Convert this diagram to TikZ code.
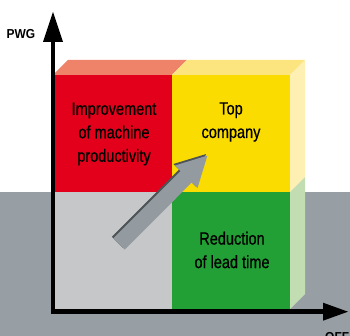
\documentclass[tikz,border=0pt]{standalone}
\usepackage{fontspec}
\usetikzlibrary{arrows.meta}
\newfontfamily\condfont[FakeStretch=0.82,FakeBold=0.6]{Liberation Sans}
\newfontfamily\axisfont[FakeStretch=0.92]{Liberation Sans}
\definecolor{cellred}{HTML}{E2001A}
\definecolor{topred}{HTML}{EE836A}
\definecolor{cellyellow}{HTML}{FADC00}
\definecolor{topyellow}{HTML}{FCE57F}
\definecolor{sideyellow}{HTML}{FDF0B2}
\definecolor{cellgreen}{HTML}{22A035}
\definecolor{sidegreen}{HTML}{C3DDB3}
\definecolor{cellgray}{HTML}{C6C7C9}
\definecolor{backgray}{HTML}{979FA4}
\definecolor{arrowgray}{HTML}{949BA0}
\definecolor{shadowgray}{HTML}{4C5256}
\tikzset{
  celltext/.style={align=center,font=\condfont\fontsize{17.7}{23.5}\selectfont,inner sep=0pt},
  axislabel/.style={font=\axisfont\bfseries\fontsize{13}{13}\selectfont,inner sep=0pt},
  axisline/.style={line width=4.7pt,line join=miter}
}
\begin{document}
\begin{tikzpicture}[x=1pt,y=-1pt]
      \useasboundingbox (0,0) rectangle (350,336);
      \fill[backgray] (0,192) rectangle (350,336);
      % front cells
      \fill[cellred] (53,75) rectangle (172,192);
      \fill[cellyellow] (172,75) rectangle (290,192);
      \fill[cellgray] (53,192) rectangle (172,309);
      \fill[cellgreen] (172,192) rectangle (290,309);
      % top and side faces
      \fill[topred] (53,75) -- (68,60) -- (187,60) -- (172,75) -- cycle;
      \fill[topyellow] (172,75) -- (187,60) -- (305,60) -- (290,75) -- cycle;
      \fill[sideyellow] (290,75) -- (305,60) -- (305,177) -- (290,192) -- cycle;
      \fill[sidegreen] (290,192) -- (305,177) -- (305,294) -- (290,309) -- cycle;
      \node[celltext] (improve) at (114,134) {Improvement\\of machine\\productivity};
      \node[celltext] (topco) at (231,122) {Top\\company};
      \node[celltext] (reduce) at (232,250) {Reduction\\of lead time};
      % gray arrow
      \fill[shadowgray] (111.8,236.8) -- (179,169.6) -- (173.4,164) -- (205.9,154.1)
        -- (196,186.6) -- (190.3,180.9) -- (123.2,248.2) -- cycle;
      \fill[arrowgray] (113.3,238.3) -- (180.5,171.1) -- (174.9,165.5) -- (207.4,155.6)
        -- (197.5,188.1) -- (191.8,182.4) -- (124.7,249.7) -- cycle;
      % axes
      \draw[axisline,{Triangle[length=25pt,width=18pt,line width'=0pt]}-{Triangle[length=30pt,width=20pt,line width'=0pt]}]
        (348,311.7) -- (53,311.7) -- (53,12);
      \node[axislabel] (pwg) at (21,34.5) {PWG};
      \node[axislabel,anchor=base west] (off) at (325,341) {OFF};
    \end{tikzpicture}
\end{document}
